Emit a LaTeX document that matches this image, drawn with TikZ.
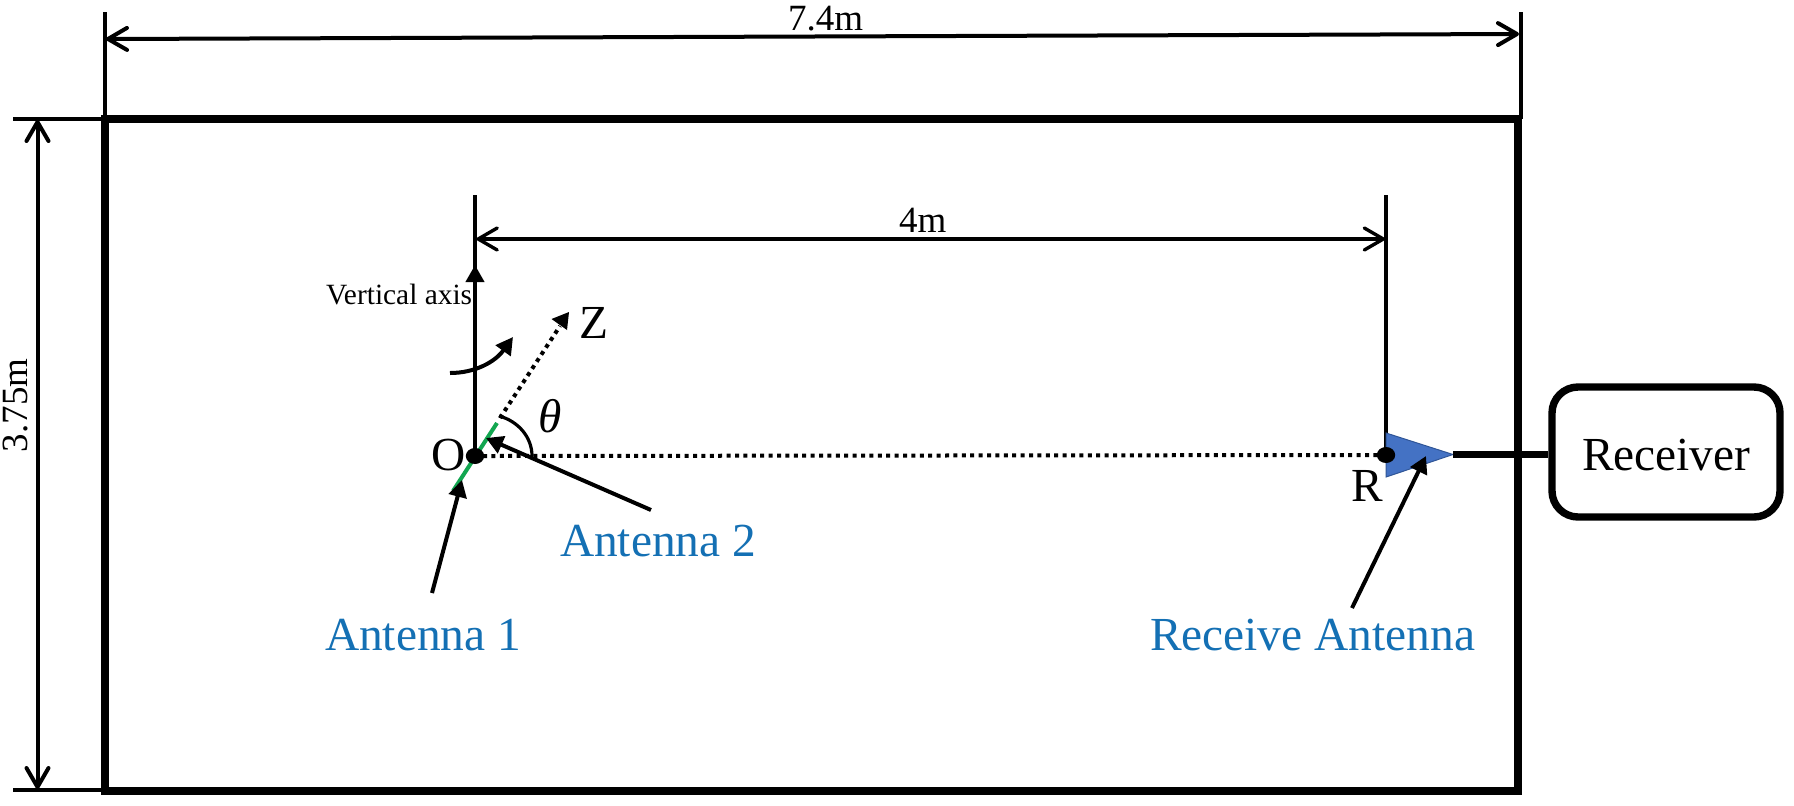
\documentclass[tikz,border=0pt]{standalone}
\usepackage{fontspec}
\setmainfont{Liberation Serif}
\usetikzlibrary{arrows.meta}
\definecolor{labelblue}{HTML}{1470B4}
\definecolor{antgreen}{HTML}{12A650}
\definecolor{hornblue}{HTML}{4472C4}
\definecolor{hornedge}{HTML}{2F5597}
\tikzset{
  x=0.5pt,y=-0.5pt,
  txt/.style={inner sep=0pt,outer sep=0pt,anchor=base west,text=black},
  big/.style={txt,font=\fontsize{23.7}{28}\selectfont},
  mid/.style={txt,font=\fontsize{18.5}{22}\selectfont},
  small/.style={txt,font=\fontsize{14.7}{18}\selectfont},
  bluelabel/.style={big,text=labelblue},
  wall/.style={line width=4pt,line cap=rect},
  ext/.style={line width=2pt},
  dim/.style={line width=2pt,{Straight Barb[length=9.5pt,width=11pt,line width=2pt,round]}-{Straight Barb[length=9.5pt,width=11pt,line width=2pt,round]}},
  dimthin/.style={line width=1.7pt,{Straight Barb[length=9.5pt,width=11pt,line width=1.7pt,round]}-{Straight Barb[length=9.5pt,width=11pt,line width=1.7pt,round]}},
  pointer/.style={line width=2pt,-{Triangle[length=8.5pt,width=9pt]}},
  dotline/.style={line width=2pt,dash pattern=on 2pt off 2.2pt},
  dot/.style={circle,fill=black,draw=none,inner sep=0pt,minimum size=8pt,xscale=1.15},
}
\begin{document}
\begin{tikzpicture}
\useasboundingbox[fill=white] (0,0) rectangle (1794,805);
% room
\coordinate (tl) at (105,119);
\coordinate (tr) at (1518,119);
\coordinate (bl) at (105,790.5);
\coordinate (br) at (1518,790.5);
\draw[wall] (tl) -- (tr) -- (br) -- (bl) -- cycle;
% overall dimensions
\coordinate (e1) at (105,12);
\coordinate (e2) at (1520.5,12);
\coordinate (e2b) at (1520.5,119);
\coordinate (e3) at (13,119);
\coordinate (e4) at (13,790);
\coordinate (e4b) at (105,790);
\draw[ext] (e1) -- (tl);
\draw[ext] (e2) -- (e2b);
\draw[ext] (e3) -- (tl);
\draw[ext] (e4) -- (e4b);
\coordinate (w1) at (106,39);
\coordinate (w2) at (1519,34);
\draw[dim] (w1) -- (w2);
\coordinate (h1) at (37.5,120);
\coordinate (h2) at (37.5,789);
\draw[dim] (h1) -- (h2);
\node[mid] (w) at (788,30) {7.4m};
\node[mid,rotate=90] (h) at (27,452) {3.75m};
% transmitter side
\coordinate (O) at (475,456);
\coordinate (Odots) at (483,456);
\coordinate (Rp) at (1386,455);
\coordinate (vtop) at (475,195);
\coordinate (vmid) at (475,265);
\coordinate (rtop) at (1386,195);
\draw[ext] (vtop) -- (O);
\draw[pointer] (O) -- (vmid);
\draw[ext] (rtop) -- (Rp);
\coordinate (f1) at (476.5,239);
\coordinate (f2) at (1385,239);
\draw[dimthin] (f1) -- (f2);
\node[mid] (four) at (899,232) {4m};
\node[small] (vert) at (326,304) {Vertical axis};
% horn
\coordinate (h-a) at (1386,433);
\coordinate (h-b) at (1453,454.5);
\coordinate (h-c) at (1386,477);
\draw[fill=hornblue,draw=hornedge,line width=0.5pt] (h-a) -- (h-b) -- (h-c) -- cycle;
% dotted lines
\coordinate (zs) at (500,418);
\coordinate (zd) at (560,326);
\coordinate (ze) at (569,312);
\coordinate (zl) at (551.5,319);
\coordinate (zr) at (567,330);
\draw[dotline] (Odots) -- (Rp);
\draw[dotline] (zs) -- (zd);
\fill (ze) -- (zl) -- (zr) -- cycle;
% green antenna
\coordinate (g1) at (453,491);
\coordinate (g2) at (497,423);
\draw[antgreen,line width=2pt] (g1) -- (g2);
\node[dot] (Odot) at (O) {};
\node[dot] (Rdot) at (Rp) {};
% rotation and angle
\coordinate (c1) at (450,373);
\coordinate (c2) at (513,337);
\draw[pointer] (c1) .. controls (475,373) and (495,362) .. (c2);
\coordinate (a1) at (499,416);
\coordinate (a2) at (532,456);
\draw[line width=1.6pt] (a1) .. controls (518,421) and (532,437) .. (a2);
% labels
\node[big] (Z) at (579,338) {Z};
\node[big] (Ol) at (431,470) {O};
\node[big] (Rl) at (1351,501) {R};
\node[big] (theta) at (538,432) {\itshape θ};
\node[bluelabel] (ant1) at (325,650) {Antenna 1};
\node[bluelabel] (ant2) at (560,556) {Antenna 2};
\node[bluelabel] (rx) at (1150,650) {Receive Antenna};
% pointers
\coordinate (p1s) at (432,593);
\coordinate (p1e) at (462,480);
\coordinate (p2s) at (651,510);
\coordinate (p2e) at (486,438);
\coordinate (p3s) at (1352,608);
\coordinate (p3e) at (1426,456);
\draw[pointer] (p1s) -- (p1e);
\draw[pointer] (p2s) -- (p2e);
\draw[pointer] (p3s) -- (p3e);
% receiver
\node[draw,line width=3.7pt,rounded corners=13pt,minimum width=114pt,minimum height=65pt,inner sep=0pt] (recv) at (1666,452) {};
\node[big] (recvtxt) at (1582,470) {Receiver};
\draw[line width=3.5pt] (h-b) -- (h-b -| recv.west);
\end{tikzpicture}
\end{document}
